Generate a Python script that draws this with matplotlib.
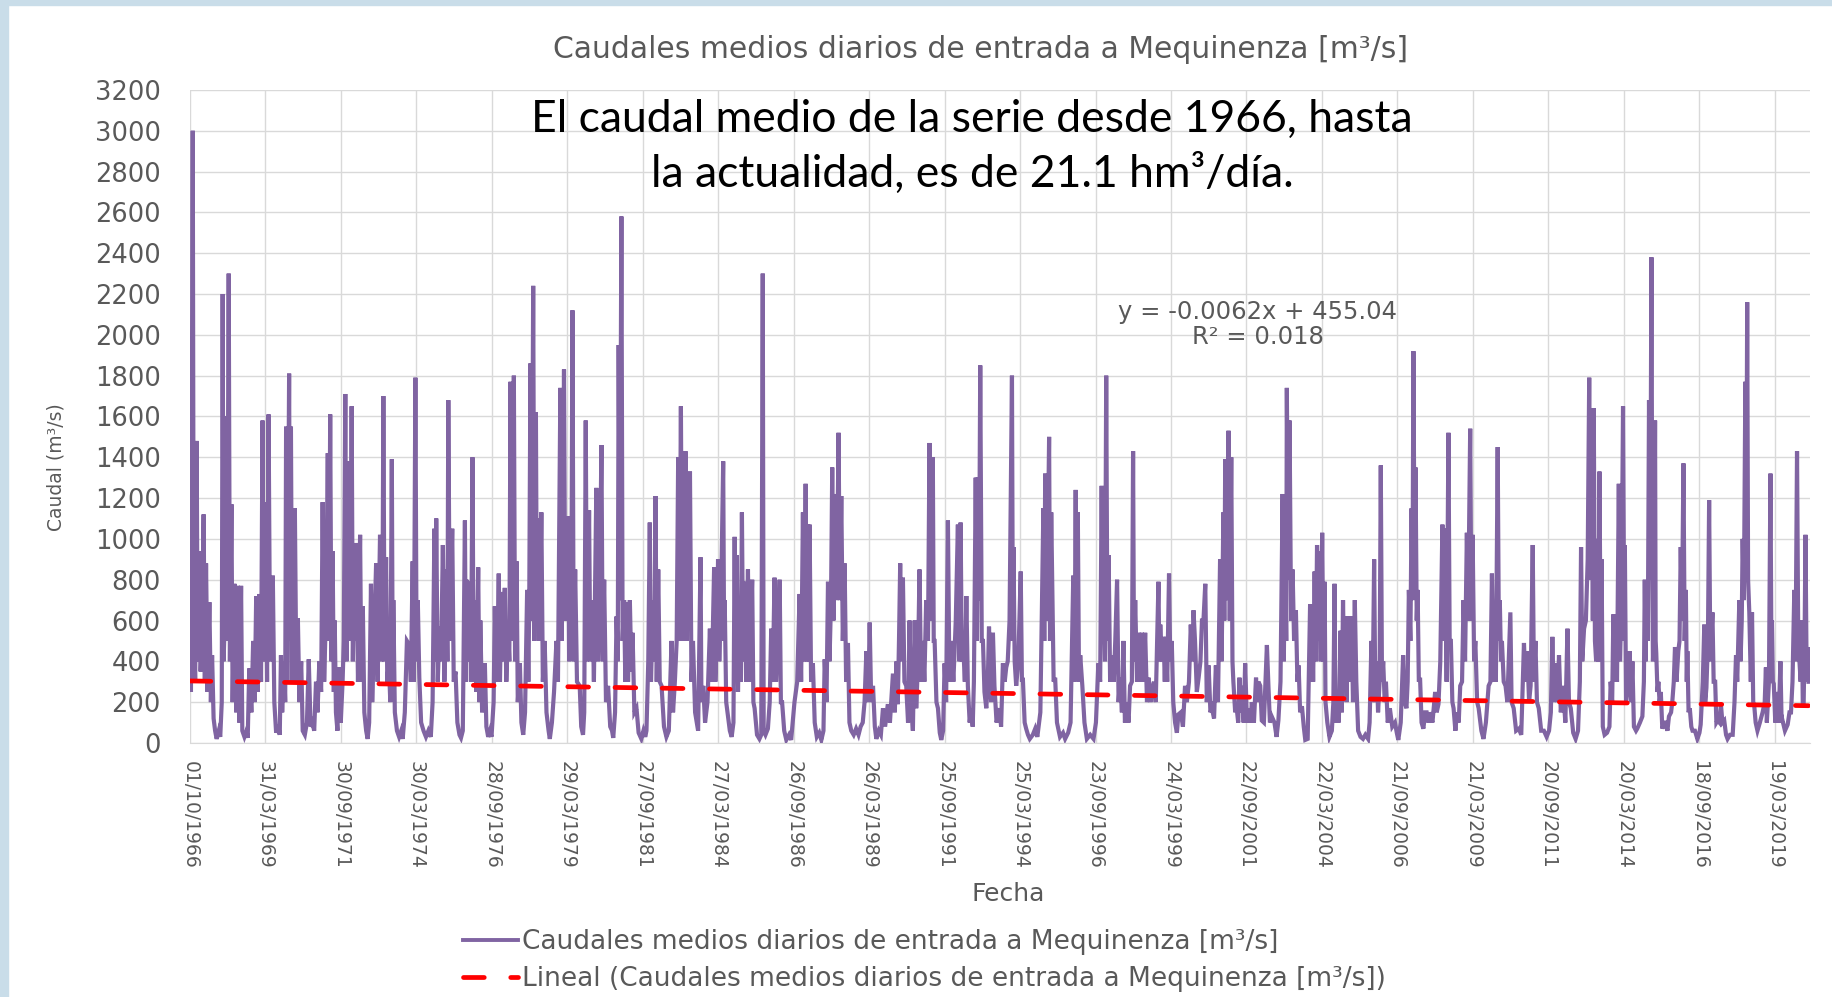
import matplotlib
matplotlib.use('Agg')
import matplotlib.pyplot as plt
from matplotlib.patches import Rectangle
from matplotlib.lines import Line2D
import pandas as pd

# daily mean inflow to Mequinenza as (decimal year, m3/s)
flow_1966_75 = [
    (1966.75, 480), (1966.78, 250), (1966.84, 3000), (1966.87, 600), (1966.92, 300), (1966.97, 1480),
    (1967.00, 400), (1967.06, 940), (1967.10, 350), (1967.15, 600), (1967.20, 1120), (1967.24, 300),
    (1967.28, 880), (1967.33, 250), (1967.39, 690), (1967.44, 200), (1967.48, 430), (1967.53, 120),
    (1967.58, 60), (1967.63, 20), (1967.70, 60), (1967.75, 30), (1967.80, 200), (1967.83, 2200),
    (1967.86, 400), (1967.90, 600), (1967.94, 1600), (1967.98, 500), (1968.03, 2300), (1968.07, 400),
    (1968.12, 1170), (1968.16, 200), (1968.22, 780), (1968.28, 150), (1968.33, 770), (1968.38, 100),
    (1968.44, 770), (1968.48, 60), (1968.55, 30), (1968.62, 60), (1968.66, 25), (1968.71, 365),
    (1968.78, 150), (1968.84, 500), (1968.89, 200), (1968.94, 720), (1968.99, 250), (1969.05, 730),
    (1969.10, 300), (1969.15, 1580), (1969.19, 400), (1969.24, 1180), (1969.30, 300), (1969.35, 1610),
    (1969.40, 400), (1969.44, 500), (1969.49, 820), (1969.54, 200), (1969.60, 50), (1969.66, 90),
    (1969.72, 40), (1969.76, 430), (1969.80, 150), (1969.86, 400), (1969.90, 200), (1969.93, 1550),
    (1969.97, 300), (1970.03, 1810), (1970.06, 500), (1970.09, 1550), (1970.13, 300), (1970.18, 500),
    (1970.22, 1150), (1970.27, 300), (1970.32, 610), (1970.37, 200), (1970.43, 400), (1970.48, 60),
    (1970.55, 40), (1970.62, 100), (1970.68, 410), (1970.74, 80), (1970.80, 100), (1970.86, 60),
    (1970.92, 300), (1970.97, 150), (1971.03, 400), (1971.09, 250), (1971.14, 1180), (1971.19, 300),
    (1971.26, 700), (1971.31, 1420), (1971.35, 500), (1971.39, 1610), (1971.43, 400), (1971.47, 940),
    (1971.51, 250), (1971.54, 600), (1971.58, 150), (1971.63, 60), (1971.69, 370), (1971.74, 100),
    (1971.80, 300), (1971.84, 500), (1971.89, 1710), (1971.93, 400), (1971.97, 700), (1972.03, 1380),
    (1972.06, 500), (1972.10, 1650), (1972.14, 400), (1972.19, 970), (1972.22, 500), (1972.25, 980),
    (1972.31, 300), (1972.38, 1020), (1972.42, 300), (1972.47, 670), (1972.52, 150), (1972.58, 60),
    (1972.63, 20), (1972.68, 100), (1972.74, 780), (1972.78, 200), (1972.84, 500), (1972.91, 880),
    (1972.96, 300), (1973.04, 1020), (1973.08, 400), (1973.12, 600), (1973.15, 1700), (1973.19, 400),
    (1973.24, 910), (1973.28, 300), (1973.33, 400), (1973.38, 200), (1973.43, 1390), (1973.46, 300),
    (1973.48, 700), (1973.53, 150), (1973.60, 60), (1973.67, 30), (1973.74, 60), (1973.79, 20),
    (1973.86, 150), (1973.93, 500), (1974.01, 480), (1974.06, 300), (1974.12, 890), (1974.16, 300),
    (1974.21, 1790), (1974.25, 400), (1974.29, 700), (1974.34, 320), (1974.40, 100), (1974.48, 60),
    (1974.56, 30), (1974.64, 60), (1974.72, 30), (1974.78, 200), (1974.84, 1050), (1974.87, 400),
    (1974.90, 1100), (1974.95, 300), (1975.01, 570), (1975.06, 400), (1975.12, 970), (1975.17, 300),
    (1975.23, 850), (1975.27, 400), (1975.30, 1680), (1975.35, 500), (1975.43, 1050), (1975.48, 300),
    (1975.54, 350), (1975.60, 100), (1975.67, 40),
]

flow_1975_84 = [
    (1975.72, 25), (1975.78, 60), (1975.85, 1090), (1975.88, 300), (1975.90, 800), (1975.95, 400),
    (1976.01, 790), (1976.05, 300), (1976.10, 1400), (1976.14, 300), (1976.18, 700), (1976.23, 250),
    (1976.29, 860), (1976.33, 200), (1976.36, 600), (1976.42, 150), (1976.51, 390), (1976.56, 80),
    (1976.62, 30), (1976.68, 60), (1976.73, 30), (1976.80, 200), (1976.84, 670), (1976.88, 300),
    (1976.93, 500), (1976.97, 830), (1977.01, 300), (1977.06, 740), (1977.10, 400), (1977.17, 760),
    (1977.22, 300), (1977.28, 560), (1977.32, 400), (1977.36, 1770), (1977.40, 500), (1977.44, 800),
    (1977.47, 1800), (1977.51, 400), (1977.56, 890), (1977.60, 200), (1977.67, 390), (1977.72, 100),
    (1977.78, 40), (1977.84, 150), (1977.91, 750), (1977.95, 300), (1977.98, 700), (1978.02, 1860),
    (1978.06, 600), (1978.11, 2240), (1978.15, 500), (1978.20, 1620), (1978.23, 600), (1978.27, 1100),
    (1978.32, 500), (1978.38, 1130), (1978.43, 300), (1978.49, 500), (1978.55, 150), (1978.62, 60),
    (1978.66, 20), (1978.73, 100), (1978.80, 250), (1978.88, 500), (1978.93, 300), (1979.01, 1740),
    (1979.05, 500), (1979.09, 900), (1979.13, 1830), (1979.17, 600), (1979.22, 700), (1979.27, 1110),
    (1979.30, 400), (1979.32, 850), (1979.37, 500), (1979.41, 2120), (1979.45, 400), (1979.50, 850),
    (1979.56, 300), (1979.65, 280), (1979.70, 80), (1979.76, 40), (1979.80, 150), (1979.85, 1580),
    (1979.89, 400), (1979.93, 700), (1979.96, 1140), (1980.00, 400), (1980.07, 700), (1980.12, 300),
    (1980.20, 1250), (1980.25, 400), (1980.30, 600), (1980.37, 1460), (1980.41, 400), (1980.46, 800),
    (1980.52, 200), (1980.59, 280), (1980.66, 80), (1980.72, 60), (1980.76, 25), (1980.82, 150),
    (1980.87, 620), (1980.91, 400), (1980.94, 1950), (1980.98, 700), (1981.03, 2580), (1981.07, 500),
    (1981.12, 700), (1981.16, 300), (1981.20, 690), (1981.25, 300), (1981.31, 700), (1981.36, 350),
    (1981.40, 540), (1981.46, 150), (1981.53, 170), (1981.60, 50), (1981.69, 20), (1981.76, 60),
    (1981.82, 30), (1981.86, 60), (1981.92, 400), (1981.97, 1080), (1982.01, 300), (1982.08, 700),
    (1982.12, 400), (1982.16, 1210), (1982.20, 300), (1982.25, 850), (1982.30, 300), (1982.36, 280),
    (1982.44, 80), (1982.52, 30), (1982.60, 60), (1982.69, 500), (1982.74, 150), (1982.80, 300),
    (1982.86, 500), (1982.91, 1400), (1982.95, 500), (1983.00, 1650), (1983.04, 500), (1983.07, 900),
    (1983.11, 600), (1983.15, 1430), (1983.19, 500), (1983.25, 800), (1983.30, 1330), (1983.35, 300),
    (1983.40, 500), (1983.47, 150), (1983.57, 60), (1983.65, 910), (1983.68, 200), (1983.74, 280),
    (1983.80, 100), (1983.88, 200), (1983.96, 560), (1984.00, 300), (1984.05, 500), (1984.10, 860),
    (1984.14, 300), (1984.20, 600), (1984.23, 900), (1984.27, 400), (1984.34, 800), (1984.40, 1380),
    (1984.43, 500), (1984.45, 700), (1984.50, 200), (1984.56, 130), (1984.62, 60), (1984.68, 30),
]

flow_1984_94 = [
    (1984.74, 100), (1984.78, 1010), (1984.81, 300), (1984.85, 920), (1984.89, 250), (1984.94, 640),
    (1984.98, 300), (1985.02, 1130), (1985.06, 400), (1985.11, 790), (1985.16, 300), (1985.22, 850),
    (1985.26, 300), (1985.29, 450), (1985.36, 800), (1985.40, 200), (1985.44, 170), (1985.52, 40),
    (1985.60, 20), (1985.66, 40), (1985.71, 2300), (1985.74, 60), (1985.80, 40), (1985.88, 70),
    (1985.94, 200), (1985.99, 560), (1986.04, 300), (1986.10, 810), (1986.15, 300), (1986.21, 490),
    (1986.27, 800), (1986.31, 200), (1986.35, 200), (1986.42, 60), (1986.49, 15), (1986.58, 40),
    (1986.65, 15), (1986.76, 200), (1986.85, 300), (1986.93, 730), (1986.98, 300), (1987.04, 1130),
    (1987.08, 400), (1987.13, 1270), (1987.17, 400), (1987.20, 1070), (1987.24, 400), (1987.26, 1070),
    (1987.31, 300), (1987.37, 390), (1987.43, 100), (1987.50, 30), (1987.58, 50), (1987.65, 15),
    (1987.72, 60), (1987.76, 410), (1987.82, 200), (1987.87, 790), (1987.92, 400), (1987.97, 700),
    (1988.01, 1350), (1988.05, 600), (1988.08, 900), (1988.12, 1220), (1988.16, 700), (1988.22, 1520),
    (1988.26, 700), (1988.31, 1210), (1988.36, 500), (1988.42, 880), (1988.47, 300), (1988.53, 490),
    (1988.58, 100), (1988.64, 60), (1988.72, 40), (1988.80, 70), (1988.88, 40), (1988.95, 80),
    (1989.02, 100), (1989.08, 200), (1989.14, 450), (1989.20, 200), (1989.25, 590), (1989.30, 200),
    (1989.36, 280), (1989.42, 80), (1989.47, 20), (1989.55, 60), (1989.62, 40), (1989.69, 170),
    (1989.76, 80), (1989.85, 190), (1989.92, 100), (1990.02, 340), (1990.08, 150), (1990.14, 400),
    (1990.18, 190), (1990.22, 500), (1990.26, 880), (1990.30, 400), (1990.35, 810), (1990.40, 300),
    (1990.46, 280), (1990.52, 100), (1990.57, 600), (1990.62, 200), (1990.68, 60), (1990.74, 600),
    (1990.79, 170), (1990.85, 400), (1990.90, 850), (1990.95, 300), (1991.01, 500), (1991.06, 300),
    (1991.12, 700), (1991.18, 500), (1991.23, 1470), (1991.27, 600), (1991.34, 1400), (1991.37, 500),
    (1991.40, 500), (1991.46, 200), (1991.51, 170), (1991.57, 50), (1991.62, 15), (1991.68, 60),
    (1991.73, 390), (1991.78, 200), (1991.84, 1090), (1991.89, 300), (1991.95, 500), (1992.02, 300),
    (1992.10, 600), (1992.17, 1070), (1992.22, 400), (1992.26, 1080), (1992.30, 400), (1992.34, 500),
    (1992.40, 300), (1992.45, 720), (1992.50, 280), (1992.56, 100), (1992.61, 170), (1992.66, 80),
    (1992.70, 300), (1992.76, 1300), (1992.80, 500), (1992.83, 1300), (1992.87, 700), (1992.91, 1850),
    (1992.96, 500), (1993.00, 500), (1993.05, 250), (1993.11, 170), (1993.16, 300), (1993.20, 570),
    (1993.27, 200), (1993.33, 540), (1993.38, 280), (1993.45, 100), (1993.55, 170), (1993.60, 80),
    (1993.66, 390), (1993.72, 300), (1993.77, 370), (1993.82, 400), (1993.88, 600), (1993.96, 1800),
    (1993.99, 500), (1994.01, 960), (1994.05, 400), (1994.10, 280), (1994.17, 400), (1994.25, 840),
    (1994.29, 300), (1994.32, 320), (1994.38, 100), (1994.43, 70),
]

flow_1994_03 = [
    (1994.49, 40), (1994.55, 20), (1994.65, 40), (1994.73, 70), (1994.80, 30), (1994.90, 150),
    (1995.00, 1150), (1995.03, 500), (1995.06, 1320), (1995.10, 600), (1995.15, 1000), (1995.19, 1500),
    (1995.22, 500), (1995.26, 1130), (1995.30, 700), (1995.34, 300), (1995.39, 320), (1995.45, 100),
    (1995.55, 30), (1995.65, 50), (1995.72, 20), (1995.82, 50), (1995.90, 100), (1995.99, 820),
    (1996.03, 300), (1996.07, 1240), (1996.10, 400), (1996.14, 1130), (1996.18, 300), (1996.22, 430),
    (1996.29, 280), (1996.36, 100), (1996.44, 20), (1996.55, 40), (1996.66, 20), (1996.74, 100),
    (1996.82, 390), (1996.88, 300), (1996.93, 1260), (1996.97, 500), (1997.00, 700), (1997.04, 400),
    (1997.08, 1800), (1997.12, 500), (1997.16, 920), (1997.21, 300), (1997.27, 430), (1997.33, 300),
    (1997.38, 500), (1997.44, 800), (1997.49, 200), (1997.54, 320), (1997.60, 150), (1997.65, 500),
    (1997.70, 100), (1997.76, 200), (1997.82, 100), (1997.87, 280), (1997.93, 300), (1997.97, 1430),
    (1998.00, 400), (1998.04, 700), (1998.10, 300), (1998.15, 540), (1998.20, 300), (1998.26, 540),
    (1998.31, 300), (1998.37, 540), (1998.43, 200), (1998.48, 320), (1998.55, 200), (1998.60, 270),
    (1998.66, 300), (1998.72, 200), (1998.81, 790), (1998.84, 400), (1998.87, 580), (1998.92, 400),
    (1998.98, 520), (1999.02, 300), (1999.05, 520), (1999.10, 300), (1999.16, 830), (1999.20, 400),
    (1999.25, 500), (1999.30, 200), (1999.36, 100), (1999.42, 50), (1999.47, 140), (1999.55, 150),
    (1999.62, 80), (1999.69, 280), (1999.75, 200), (1999.82, 300), (1999.88, 580), (1999.93, 400),
    (1999.97, 650), (2000.02, 500), (2000.08, 250), (2000.14, 320), (2000.20, 400), (2000.25, 600),
    (2000.30, 600), (2000.36, 780), (2000.41, 200), (2000.47, 380), (2000.53, 150), (2000.58, 170),
    (2000.65, 120), (2000.71, 380), (2000.78, 200), (2000.85, 900), (2000.90, 400), (2000.96, 1130),
    (2000.99, 600), (2001.02, 1390), (2001.06, 700), (2001.13, 1530), (2001.17, 600), (2001.22, 1400),
    (2001.26, 400), (2001.29, 300), (2001.35, 150), (2001.40, 170), (2001.45, 100), (2001.49, 320),
    (2001.53, 150), (2001.57, 280), (2001.63, 100), (2001.68, 390), (2001.74, 100), (2001.81, 170),
    (2001.86, 100), (2001.90, 200), (2001.97, 100), (2002.04, 320), (2002.08, 200), (2002.12, 300),
    (2002.18, 280), (2002.23, 110), (2002.30, 100), (2002.40, 480), (2002.45, 280), (2002.50, 100),
    (2002.56, 130), (2002.65, 100), (2002.72, 30), (2002.78, 110), (2002.85, 300), (2002.92, 1220),
    (2002.96, 400), (2003.00, 1020), (2003.04, 500), (2003.06, 1740), (2003.10, 800), (2003.15, 1580),
    (2003.20, 600), (2003.25, 850), (2003.30, 500), (2003.36, 650), (2003.41, 300), (2003.45, 380),
    (2003.50, 150), (2003.56, 180), (2003.62, 80), (2003.67, 15), (2003.75, 20), (2003.83, 680),
]

flow_2003_13 = [
    (2003.86, 300), (2003.89, 680), (2003.93, 300), (2003.98, 840), (2004.02, 400), (2004.06, 970),
    (2004.10, 500), (2004.14, 940), (2004.18, 400), (2004.23, 1030), (2004.27, 400), (2004.31, 790),
    (2004.34, 200), (2004.40, 100), (2004.47, 30), (2004.55, 60), (2004.60, 200), (2004.64, 780),
    (2004.67, 100), (2004.72, 150), (2004.78, 100), (2004.84, 550), (2004.88, 150), (2004.92, 700),
    (2004.96, 300), (2005.00, 620), (2005.04, 200), (2005.08, 620), (2005.14, 300), (2005.20, 620),
    (2005.25, 200), (2005.31, 700), (2005.36, 300), (2005.42, 60), (2005.50, 30), (2005.58, 20),
    (2005.66, 40), (2005.75, 20), (2005.80, 100), (2005.86, 500), (2005.90, 200), (2005.95, 900),
    (2005.99, 200), (2006.03, 400), (2006.08, 150), (2006.13, 300), (2006.17, 1360), (2006.21, 300),
    (2006.25, 400), (2006.30, 200), (2006.34, 300), (2006.40, 100), (2006.47, 170), (2006.55, 80),
    (2006.64, 100), (2006.70, 50), (2006.75, 15), (2006.83, 100), (2006.91, 430), (2006.96, 200),
    (2007.02, 170), (2007.06, 300), (2007.10, 750), (2007.15, 500), (2007.19, 1150), (2007.22, 700),
    (2007.25, 1920), (2007.29, 800), (2007.32, 1350), (2007.36, 600), (2007.39, 750), (2007.43, 300),
    (2007.47, 320), (2007.52, 100), (2007.58, 70), (2007.64, 150), (2007.69, 150), (2007.75, 100),
    (2007.80, 150), (2007.88, 100), (2007.97, 250), (2008.02, 150), (2008.08, 190), (2008.14, 400),
    (2008.21, 1070), (2008.25, 500), (2008.30, 1050), (2008.35, 300), (2008.41, 1520), (2008.45, 500),
    (2008.49, 500), (2008.54, 200), (2008.58, 170), (2008.64, 60), (2008.69, 150), (2008.75, 100),
    (2008.80, 280), (2008.86, 300), (2008.91, 700), (2008.96, 400), (2009.02, 1030), (2009.06, 600),
    (2009.13, 1540), (2009.17, 600), (2009.21, 1020), (2009.26, 400), (2009.30, 500), (2009.36, 200),
    (2009.41, 170), (2009.50, 60), (2009.57, 20), (2009.65, 100), (2009.74, 280), (2009.80, 300),
    (2009.85, 830), (2009.90, 300), (2009.94, 500), (2009.98, 300), (2010.04, 1450), (2010.08, 500),
    (2010.11, 700), (2010.15, 400), (2010.18, 500), (2010.24, 300), (2010.30, 280), (2010.36, 200),
    (2010.46, 640), (2010.50, 200), (2010.57, 170), (2010.65, 60), (2010.74, 70), (2010.82, 40),
    (2010.91, 490), (2010.96, 300), (2011.02, 450), (2011.08, 200), (2011.13, 280), (2011.20, 970),
    (2011.24, 300), (2011.29, 500), (2011.34, 200), (2011.40, 170), (2011.48, 60), (2011.57, 60),
    (2011.66, 30), (2011.74, 60), (2011.80, 150), (2011.85, 520), (2011.90, 200), (2011.96, 390),
    (2012.02, 200), (2012.07, 430), (2012.13, 150), (2012.20, 280), (2012.28, 100), (2012.35, 560),
    (2012.40, 200), (2012.46, 170), (2012.54, 50), (2012.62, 20), (2012.70, 60), (2012.76, 300),
    (2012.80, 960), (2012.84, 400), (2012.90, 560), (2012.96, 600), (2013.02, 900), (2013.07, 1790),
]

flow_2013_20 = [
    (2013.11, 800), (2013.15, 1600), (2013.19, 600), (2013.22, 1640), (2013.26, 500), (2013.30, 400),
    (2013.33, 1000), (2013.37, 400), (2013.41, 1330), (2013.45, 400), (2013.48, 900), (2013.52, 80),
    (2013.58, 40), (2013.66, 50), (2013.74, 80), (2013.78, 300), (2013.83, 200), (2013.87, 630),
    (2013.91, 300), (2013.94, 600), (2013.99, 300), (2014.05, 1270), (2014.09, 400), (2014.14, 700),
    (2014.19, 1650), (2014.23, 500), (2014.25, 970), (2014.29, 200), (2014.33, 250), (2014.41, 450),
    (2014.46, 200), (2014.50, 400), (2014.55, 80), (2014.62, 60), (2014.66, 70), (2014.75, 100),
    (2014.83, 130), (2014.88, 300), (2014.91, 800), (2014.94, 400), (2014.96, 700), (2015.01, 500),
    (2015.05, 1680), (2015.09, 800), (2015.13, 2380), (2015.16, 800), (2015.18, 400), (2015.22, 600),
    (2015.25, 1580), (2015.27, 500), (2015.29, 440), (2015.33, 250), (2015.36, 300), (2015.40, 200),
    (2015.44, 250), (2015.49, 70), (2015.55, 100), (2015.60, 100), (2015.66, 60), (2015.71, 130),
    (2015.78, 150), (2015.82, 200), (2015.87, 300), (2015.91, 470), (2015.96, 300), (2016.02, 450),
    (2016.06, 500), (2016.10, 960), (2016.14, 600), (2016.19, 1370), (2016.23, 500), (2016.27, 750),
    (2016.30, 300), (2016.32, 450), (2016.36, 150), (2016.40, 170), (2016.45, 80), (2016.49, 60),
    (2016.57, 60), (2016.65, 20), (2016.72, 50), (2016.76, 90), (2016.83, 300), (2016.88, 580),
    (2016.91, 200), (2016.95, 270), (2017.00, 500), (2017.04, 1190), (2017.08, 400), (2017.15, 640),
    (2017.19, 300), (2017.24, 300), (2017.28, 100), (2017.32, 110), (2017.38, 100), (2017.43, 190),
    (2017.48, 100), (2017.54, 110), (2017.60, 40), (2017.65, 20), (2017.73, 40), (2017.82, 40),
    (2017.88, 200), (2017.93, 430), (2017.97, 300), (2018.04, 700), (2018.08, 400), (2018.12, 600),
    (2018.15, 1000), (2018.19, 700), (2018.24, 1770), (2018.27, 900), (2018.30, 2160), (2018.33, 800),
    (2018.37, 640), (2018.42, 300), (2018.46, 640), (2018.50, 200), (2018.53, 190), (2018.58, 100),
    (2018.64, 60), (2018.72, 100), (2018.81, 150), (2018.88, 200), (2018.92, 370), (2018.95, 100),
    (2018.98, 190), (2019.02, 300), (2019.07, 1320), (2019.10, 500), (2019.12, 600), (2019.15, 300),
    (2019.18, 290), (2019.23, 100), (2019.28, 250), (2019.34, 100), (2019.40, 400), (2019.44, 100),
    (2019.47, 110), (2019.55, 60), (2019.64, 90), (2019.70, 150), (2019.75, 150), (2019.80, 300),
    (2019.86, 750), (2019.90, 400), (2019.95, 1430), (2019.99, 500), (2020.03, 400), (2020.07, 300),
    (2020.11, 600), (2020.14, 200), (2020.17, 200), (2020.20, 500), (2020.23, 1020), (2020.27, 300),
    (2020.30, 470), (2020.33, 300),
]

tick_dates = ['01/10/1966', '31/03/1969', '30/09/1971', '30/03/1974', '28/09/1976', '29/03/1979',
              '27/09/1981', '27/03/1984', '26/09/1986', '26/03/1989', '25/09/1991', '25/03/1994',
              '23/09/1996', '24/03/1999', '22/09/2001', '22/03/2004', '21/09/2006', '21/03/2009',
              '20/09/2011', '20/03/2014', '18/09/2016', '19/03/2019']

# trend line shown by the chart (x = Excel date serial)
slope = -0.0062
intercept = 455.04
series_name = 'Caudales medios diarios de entrada a Mequinenza [m³/s]'
gray = '#595959'
purple = '#8064A2'


def decimal_year(s):
    d = pd.to_datetime(s, dayfirst=True)
    y0 = pd.Timestamp(d.year, 1, 1)
    y1 = pd.Timestamp(d.year + 1, 1, 1)
    return d.year + (d - y0) / (y1 - y0)


def excel_serial(t):
    return (t - 1900) * 365.2425 + 1


points = flow_1966_75 + flow_1975_84 + flow_1984_94 + flow_1994_03 + flow_2003_13 + flow_2013_20
t = [p[0] for p in points]
q = [p[1] for p in points]
tick_pos = [decimal_year(s) for s in tick_dates]

fig = plt.figure(figsize=(18.32, 9.97), dpi=100)
fig.patch.set_facecolor('white')
# light blue slide background peeking on the left and top
fig.add_artist(Rectangle((0, 0), 0.0045, 1, transform=fig.transFigure, color='#c9dde9', zorder=0))
fig.add_artist(Rectangle((0, 0.995), 1, 0.005, transform=fig.transFigure, color='#c9dde9', zorder=0))

ax = fig.add_axes([0.1037, 0.2548, 0.8843, 0.655])
ax.plot(t, q, color=purple, lw=3.0, solid_joinstyle='miter', zorder=3)

trend_dash = (4.4, 5.6)
t_trend = [t[0], t[-1]]
y_trend = [slope * excel_serial(x) + intercept for x in t_trend]
ax.plot(t_trend, y_trend, color='red', lw=3.4, dashes=trend_dash, dash_capstyle='round', zorder=4)

ax.set_xlim(1966.75, 2020.38)
ax.set_ylim(0, 3200)
ax.set_yticks(range(0, 3201, 200))
ax.set_xticks(tick_pos)
ax.set_xticklabels(tick_dates, rotation=-90, fontsize=13.5, color=gray)
ax.tick_params(axis='y', labelsize=18.5, labelcolor=gray, length=0, pad=21)
ax.tick_params(axis='x', length=0, pad=13)
ax.grid(True, color='#d9d9d9', lw=1.0)
ax.set_axisbelow(True)
for s in ['top', 'right', 'left']:
    ax.spines[s].set_visible(False)
ax.spines['bottom'].set_color('#d9d9d9')

narrow = ['Liberation Sans Narrow', 'DejaVu Sans Condensed', 'DejaVu Sans']
ax.set_ylabel('Caudal (m³/s)', fontsize=13.5, color=gray, family=narrow)
ax.yaxis.set_label_coords(-0.077, 0.423)
fig.text(0.5505, 0.103, 'Fecha', ha='center', va='center', fontsize=18, color=gray)
fig.text(0.5355, 0.95, series_name, ha='center', va='center', fontsize=21.5, color=gray)

ax.text(2002.1, 2050, 'y = -0.0062x + 455.04\nR² = 0.018', ha='center', va='center',
        fontsize=17.5, color=gray, linespacing=1.05)
fig.text(0.5306, 0.853, 'El caudal medio de la serie desde 1966, hasta\nla actualidad, es de 21.1 hm³/día.',
         ha='center', va='center', fontsize=32, color='black', family=['Lato', 'DejaVu Sans'],
         linespacing=1.38)

handles = [Line2D([], [], color=purple, lw=2.8),
           Line2D([], [], color='red', lw=3.4, dashes=trend_dash, dash_capstyle='round')]
fig.legend(handles, [series_name, 'Lineal (' + series_name + ')'], loc='upper left',
           bbox_to_anchor=(0.247, 0.0785), frameon=False, fontsize=19, labelcolor=gray,
           handlelength=2.1, handletextpad=0.15, labelspacing=0.4, borderaxespad=0)

fig.savefig('out.png', dpi=100)
